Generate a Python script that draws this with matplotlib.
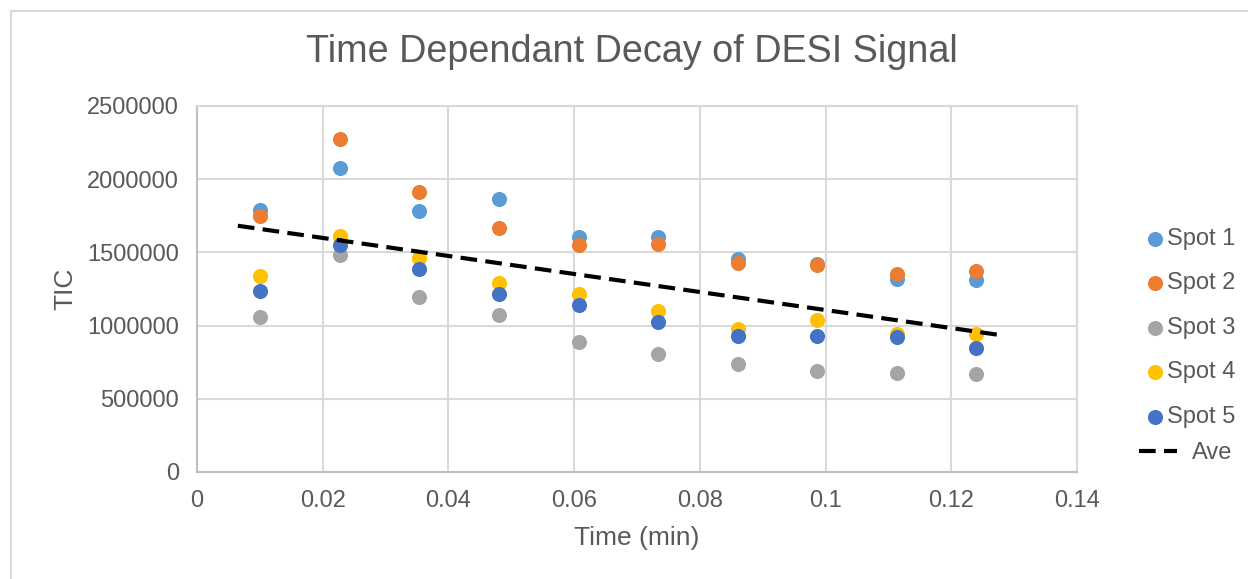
import matplotlib.pyplot as plt
from matplotlib.patches import Rectangle

# data
time_min = [0.0100, 0.0227, 0.0353, 0.0480, 0.0607, 0.0733, 0.0860, 0.0987, 0.1113, 0.1240]
spot1 = [1790000, 2079000, 1783000, 1862000, 1603000, 1607000, 1453000, 1419000, 1320000, 1311000]
spot2 = [1751000, 2275000, 1913000, 1664000, 1551000, 1560000, 1428000, 1412000, 1352000, 1373000]
spot3 = [1059000, 1484000, 1195000, 1072000, 888000, 806000, 740000, 690000, 678000, 667000]
spot4 = [1341000, 1614000, 1464000, 1289000, 1216000, 1098000, 979000, 1040000, 943000, 943000]
spot5 = [1239000, 1551000, 1387000, 1218000, 1138000, 1025000, 931000, 927000, 920000, 849000]
ave_x = [0.0065, 0.1280]
ave_y = [1682000, 934000]

series = [("Spot 1", spot1, "#5B9BD5"),
          ("Spot 2", spot2, "#ED7D31"),
          ("Spot 3", spot3, "#A5A5A5"),
          ("Spot 4", spot4, "#FFC000"),
          ("Spot 5", spot5, "#4472C4")]

txt = "#595959"
plt.rcParams['font.family'] = ['Liberation Sans', 'DejaVu Sans']

W, H = 1248, 579
fig = plt.figure(figsize=(W / 100, H / 100), dpi=100)
ax = fig.add_axes([197 / W, 1 - 472 / H, (1077 - 197) / W, (472 - 106) / H])

# outer chart border
fig.patches.append(Rectangle((11 / W, -0.05), 1.1, 1 - 11 / H + 0.05, transform=fig.transFigure,
                             fill=False, edgecolor="#D9D9D9", lw=1.5))

handles = []
for name, vals, col in series:
    h = ax.scatter(time_min, vals, s=118, color=col, label=name, zorder=3, linewidths=0)
    handles.append(h)
ln, = ax.plot(ave_x, ave_y, color="black", lw=3, dashes=(4, 2), label="Ave", zorder=4)

ax.set_xlim(0, 0.14)
ax.set_ylim(0, 2500000)
ax.set_xticks([0, 0.02, 0.04, 0.06, 0.08, 0.1, 0.12, 0.14])
ax.set_xticklabels(["0", "0.02", "0.04", "0.06", "0.08", "0.1", "0.12", "0.14"])
ax.set_yticks(range(0, 2500001, 500000))
ax.set_yticklabels([str(v) for v in range(0, 2500001, 500000)])
ax.grid(True, color="#D9D9D9", lw=1.5, zorder=0)
ax.set_axisbelow(True)
for s in ["top", "right"]:
    ax.spines[s].set_color("#D9D9D9")
    ax.spines[s].set_linewidth(1.5)
for s in ["left", "bottom"]:
    ax.spines[s].set_color("#BFBFBF")
    ax.spines[s].set_linewidth(1.5)
ax.tick_params(length=0, labelsize=17, labelcolor=txt, pad=13)

ax.set_xlabel("Time (min)", fontsize=19, color=txt, labelpad=10)
ax.set_ylabel("TIC", fontsize=19, color=txt, labelpad=7)
fig.text(632 / W, 1 - 52 / H, "Time Dependant Decay of DESI Signal", fontsize=27.2,
         color=txt, ha="center", va="center")

# excel-like legend: dots sit close to text, the dashed line is longer
leg1 = ax.legend(handles=handles, loc="upper left", bbox_to_anchor=(1148 / W, 1 - 228 / H),
                 bbox_transform=fig.transFigure, frameon=False, fontsize=17,
                 handlelength=0.6, handletextpad=0.2, labelspacing=0.95,
                 borderaxespad=0, borderpad=0, scatterpoints=1)
for t in leg1.get_texts():
    t.set_color(txt)
ax.add_artist(leg1)
leg2 = ax.legend(handles=[ln], loc="upper left", bbox_to_anchor=(1139 / W, 1 - 442 / H),
                 bbox_transform=fig.transFigure, frameon=False, fontsize=17,
                 handlelength=1.6, handletextpad=0.64, borderaxespad=0, borderpad=0)
for t in leg2.get_texts():
    t.set_color(txt)

fig.savefig("out.png", dpi=100)
